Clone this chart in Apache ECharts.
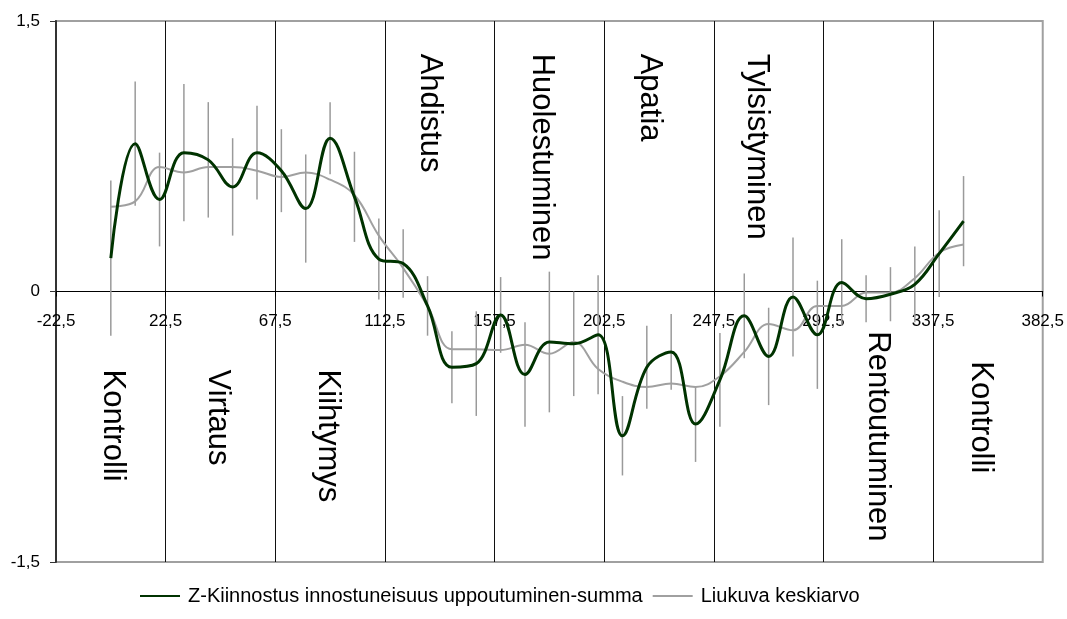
<!DOCTYPE html>
<html>
<head>
<meta charset="utf-8">
<script src="https://cdn.jsdelivr.net/npm/echarts@6/dist/echarts.min.js"></script>
<style>
  html, body { margin: 0; padding: 0; background: #fff; }
  #chart { width: 1067px; height: 619px; }
</style>
</head>
<body>
<div id="chart"></div>
<script>
// mittauspisteet (x-akseli)
var xs = [0, 10, 20, 30, 40, 50, 60, 70, 80, 90, 100, 110, 120, 130, 140, 150, 160, 170,
  180, 190, 200, 210, 220, 230, 240, 250, 260, 270, 280, 290, 300, 310, 320, 330, 340, 350]

// Z-summa
var zSumma = [0.185, 0.82, 0.51, 0.77, 0.73, 0.58, 0.77, 0.67, 0.46, 0.85, 0.525, 0.18,
  0.155, -0.08, -0.42, -0.40, -0.13, -0.46, -0.28, -0.29, -0.24, -0.80, -0.42, -0.335,
  -0.735, -0.49, -0.135, -0.36, -0.03, -0.24, 0.05, -0.04, -0.015, 0.04, 0.21, 0.39]

// virhepalkkien puolikas pituus
var virhe = [0.43, 0.345, 0.26, 0.38, 0.32, 0.27, 0.26, 0.23, 0.30, 0.20, 0.25, 0.225,
  0.19, 0.165, 0.20, 0.29, 0.21, 0.29, 0.39, 0.29, 0.33, 0.22, 0.23, 0.21,
  0.21, 0.26, 0.235, 0.27, 0.33, 0.30, 0.24, 0.13, 0.15, 0.21, 0.24, 0.25]

// liukuva keskiarvo
var liukuva = [0.47, 0.50, 0.69, 0.66, 0.69, 0.69, 0.67, 0.635, 0.66, 0.62, 0.535, 0.31,
  0.13, -0.08, -0.32, -0.32, -0.325, -0.295, -0.345, -0.28, -0.43, -0.50, -0.53, -0.51,
  -0.53, -0.47, -0.335, -0.18, -0.215, -0.08, -0.08, -0.005, -0.005, 0.074, 0.215, 0.26]

// vaiheiden nimet ja niiden paikka (data-arvoina)
var vaiheet = ['Kontrolli', 'Virtaus', 'Kiihtymys', 'Ahdistus', 'Huolestuminen', 'Apatia',
  'Tylsistyminen', 'Rentoutuminen', 'Kontrolli']
var vaiheX = [0.8, 43.9, 89.1, 130.9, 176.8, 221.2, 265.1, 314.6, 356.8]
var vaiheY = [-0.433, -0.433, -0.433, 1.319, 1.319, 1.319, 1.319, -0.221, -0.387]

var sarja1 = 'Z-Kiinnostus innostuneisuus uppoutuminen-summa'
var sarja2 = 'Liukuva keskiarvo'

var gridTop = 21
var gridBottom = 57
var chartH = 619

var chart = echarts.init(document.getElementById('chart'))

function pilkku(v) {
  return String(v).replace('.', ',')
}

var option = {
  animation: false,
  textStyle: {
    fontFamily: 'Liberation Sans, Arial, sans-serif'
  },
  grid: {
    left: 56,
    right: 24,
    top: gridTop,
    bottom: gridBottom,
    show: true,
    borderColor: '#a0a0a0',
    borderWidth: 2
  },
  legend: {
    left: 134,
    top: 581,
    itemWidth: 40,
    itemHeight: 14,
    itemGap: 9,
    itemStyle: { opacity: 0 },
    data: [sarja1, sarja2],
    textStyle: {
      fontSize: 20,
      color: '#000',
      padding: [0, 0, 0, 3]
    }
  },
  xAxis: {
    type: 'value',
    min: -22.5,
    max: 382.5,
    interval: 45,
    // akseli nollan kohdalle (y-alue on symmetrinen)
    offset: -(chartH - gridTop - gridBottom) / 2,
    axisLine: {
      onZero: false,
      lineStyle: { color: '#000', width: 1 }
    },
    axisTick: {
      show: true,
      length: 5,
      lineStyle: { color: '#000' }
    },
    axisLabel: {
      fontSize: 17,
      color: '#000',
      margin: 21,
      formatter: pilkku
    },
    splitLine: {
      show: true,
      showMinLine: false,
      showMaxLine: false,
      lineStyle: { color: '#111', width: 1 }
    }
  },
  yAxis: {
    type: 'value',
    min: -1.5,
    max: 1.5,
    interval: 1.5,
    axisLine: {
      show: true,
      onZero: false,
      lineStyle: { color: '#333', width: 2 }
    },
    axisTick: {
      show: true,
      length: 6,
      lineStyle: { color: '#333' }
    },
    axisLabel: {
      fontSize: 17,
      color: '#000',
      margin: 16,
      formatter: pilkku
    },
    splitLine: { show: false }
  },
  series: [
    {
      // virhepalkit
      type: 'custom',
      silent: true,
      z: 1,
      encode: { x: 0, y: [1, 2] },
      data: xs.map(function (x, i) {
        return [x, zSumma[i] - virhe[i], zSumma[i] + virhe[i]]
      }),
      renderItem: function (params, api) {
        var a = api.coord([api.value(0), api.value(1)])
        var b = api.coord([api.value(0), api.value(2)])
        return {
          type: 'line',
          shape: { x1: a[0], y1: a[1], x2: b[0], y2: b[1] },
          style: { stroke: '#9a9a9a', lineWidth: 1.5 }
        }
      }
    },
    {
      name: sarja2,
      type: 'line',
      z: 2,
      smooth: 0.4,
      symbol: 'none',
      lineStyle: { color: '#a0a0a0', width: 2 },
      itemStyle: { color: '#a0a0a0' },
      data: xs.map(function (x, i) { return [x, liukuva[i]] })
    },
    {
      name: sarja1,
      type: 'line',
      z: 3,
      smooth: 0.4,
      symbol: 'none',
      lineStyle: { color: '#003300', width: 3 },
      itemStyle: { color: '#003300' },
      data: xs.map(function (x, i) { return [x, zSumma[i]] })
    },
    {
      // vaiheiden nimet pystyyn
      type: 'custom',
      silent: true,
      z: 4,
      encode: { x: 0, y: 1 },
      data: vaiheX.map(function (x, i) { return [x, vaiheY[i]] }),
      renderItem: function (params, api) {
        var p = api.coord([api.value(0), api.value(1)])
        return {
          type: 'text',
          x: p[0],
          y: p[1],
          rotation: -Math.PI / 2,
          style: {
            text: vaiheet[params.dataIndex],
            fontSize: 31,
            fontFamily: 'Liberation Sans, Arial, sans-serif',
            fill: '#000',
            align: 'left',
            verticalAlign: 'middle'
          }
        }
      }
    }
  ]
}

chart.setOption(option)
</script>
</body>
</html>
